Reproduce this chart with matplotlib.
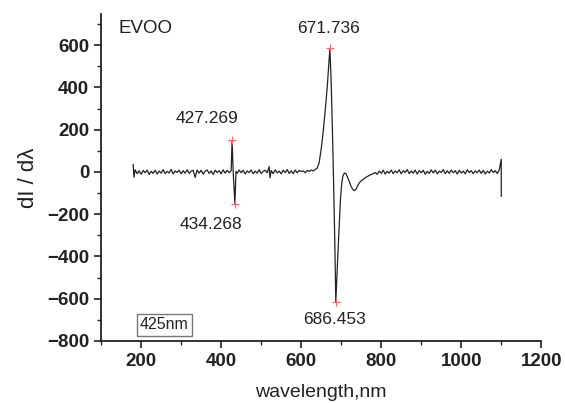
# First-derivative spectrum of EVOO, excitation 425 nm
import matplotlib.pyplot as plt
from matplotlib.ticker import MultipleLocator

plt.rcParams['font.family'] = ['Liberation Sans', 'DejaVu Sans']

# left baseline
x_left = [180, 182, 185, 190, 195, 200, 205, 210, 215, 220,
          225, 230, 235, 240, 245, 250, 255, 260, 265, 270,
          275, 280, 285, 290, 295, 300, 305, 310, 315, 320,
          325, 330, 335, 340, 345, 350, 355, 360, 365, 370,
          375, 380, 385, 390, 395, 400, 405, 410, 415, 420,
          425]
y_left = [35, -25, 10, -8, 5, -11, 7, -4, 9, -12,
          3, -7, 8, -10, 4, -6, 11, -8, 3, -5,
          12, -10, 5, -3, 8, -9, 6, -6, 10, -7,
          4, 8, -26, 9, -6, 8, -11, 4, 9, -7,
          5, -12, 8, -3, 6, -9, 10, -6, 8, -4,
          6]

# small spike pair
x_spike = [427.269, 430, 434.268, 437]
y_spike = [150, 0, -150, 3]

x_mid = [440, 445, 450, 455, 460, 465, 470, 475, 480, 485,
         490, 495, 500, 505, 510, 515, 520, 522, 525, 530,
         535, 540, 545, 550, 555, 560, 565, 570, 575, 580,
         585, 590, 595, 600]
y_mid = [-7, 9, -4, 8, -10, 5, -3, 9, -8, 4,
         -6, 10, -7, 3, 8, -4, 25, -28, 6, -8,
         10, -5, 4, -9, 8, -3, 11, -7, 5, -8,
         9, -4, 7, 2]

# main derivative band
x_band = [605, 610, 615, 620, 625, 630, 635, 640, 645, 650,
          655, 660, 665, 668, 671.736, 675, 678, 681, 684, 686.453,
          689, 692, 695, 698, 701, 704, 708, 712, 716, 720,
          724, 728, 732, 736, 740, 745, 750, 755, 760, 765,
          770, 775, 780]
y_band = [5, -4, 7, 2, 9, 5, 11, 18, 45, 110,
          190, 290, 400, 480, 585, 420, 200, -50, -330, -615,
          -500, -375, -250, -135, -60, -20, -5, -8, -25, -45,
          -65, -80, -88, -85, -70, -52, -42, -35, -28, -22,
          -17, -12, -8]

x_right = [785, 790, 795, 800, 805, 810, 815, 820, 825, 830,
           835, 840, 845, 850, 855, 860, 865, 870, 875, 880,
           885, 890, 895, 900, 905, 910, 915, 920, 925, 930,
           935, 940, 945, 950, 955, 960, 965, 970, 975, 980,
           985, 990, 995, 1000, 1005, 1010, 1015, 1020, 1025, 1030,
           1035, 1040, 1045, 1050, 1055, 1060, 1065, 1070, 1075, 1080,
           1085, 1090, 1095, 1100, 1100]
y_right = [-3, -11, 4, -7, 8, -10, 3, -6, 9, -8,
           5, -4, 10, -9, 6, -3, 11, -8, 4, -6,
           9, -10, 6, -4, 8, -11, 3, -7, 10, -5,
           8, -9, 4, -3, 11, -8, 5, -7, 9, -4,
           6, -10, 8, -5, 4, -9, 10, -3, 6, -8,
           5, -4, 9, -7, 8, -10, 4, -5, 11, -3,
           6, -8, 10, 60, -115]

wavelength = x_left + x_spike + x_mid + x_band + x_right
signal = y_left + y_spike + y_mid + y_band + y_right

# labelled peaks
peak_x = [427.269, 434.268, 671.736, 686.453]
peak_y = [150, -150, 585, -615]
peak_labels = ['427.269', '434.268', '671.736', '686.453']
label_offsets = [(-18, 16), (-17, -15), (-1, 14), (-1, -13)]

fig = plt.figure(figsize=(5.65, 4.03), dpi=100)
ax = fig.add_axes([0.179, 0.154, 0.779, 0.811])

ax.plot(wavelength, signal, color='#222222', lw=0.9)
ax.plot(peak_x, peak_y, '+', color='#ff6666', ms=6, mew=0.8)

for px, py, lab, off in zip(peak_x, peak_y, peak_labels, label_offsets):
    ax.annotate(lab, (px, py), xytext=off, textcoords='offset points',
                ha='center', va='center', fontsize=12.5, color='#222222')

ax.text(0.039, 0.957, 'EVOO', transform=ax.transAxes, fontsize=13.5,
        ha='left', va='center', color='#222222')
ax.text(0.143, 0.049, '425nm', transform=ax.transAxes, fontsize=11.5,
        ha='center', va='center', color='#222222',
        bbox=dict(boxstyle='square,pad=0.2', fc='white', ec='#777777', lw=1))

ax.set_xlim(100, 1200)
ax.set_ylim(-800, 747)
ax.xaxis.set_major_locator(MultipleLocator(200))
ax.xaxis.set_minor_locator(MultipleLocator(100))
ax.yaxis.set_minor_locator(MultipleLocator(100))
ax.set_yticks(range(-800, 601, 200))

for s in ['top', 'right']:
    ax.spines[s].set_visible(False)
for s in ['left', 'bottom']:
    ax.spines[s].set_linewidth(1.3)
    ax.spines[s].set_color('#222222')

ax.tick_params(which='major', direction='out', length=5, width=1.2,
               labelsize=13.5, colors='#222222')
ax.tick_params(which='minor', direction='out', length=3, width=1.0, colors='#222222')
for lab in ax.get_xticklabels() + ax.get_yticklabels():
    lab.set_fontweight('bold')

ax.set_xlabel('wavelength,nm', fontsize=14, labelpad=10, color='#222222')
ax.set_ylabel('dI / dλ', fontsize=16, labelpad=6, color='#222222')

plt.savefig('out.png', dpi=100)
plt.close()
